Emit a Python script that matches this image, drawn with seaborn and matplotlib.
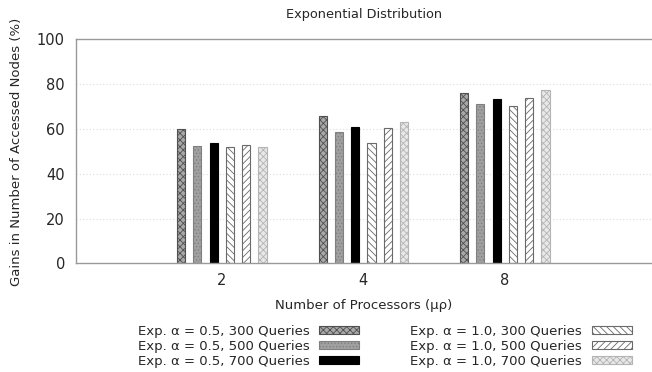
import matplotlib
matplotlib.use("Agg")
import matplotlib.pyplot as plt
import matplotlib.patches as mpatches
import seaborn as sns
import pandas as pd

processors = ["2", "4", "8"]
series = ["Exp. α = 0.5, 300 Queries", "Exp. α = 0.5, 500 Queries", "Exp. α = 0.5, 700 Queries",
          "Exp. α = 1.0, 300 Queries", "Exp. α = 1.0, 500 Queries", "Exp. α = 1.0, 700 Queries"]
a05_300 = [59.8, 66.0, 76.2]
a05_500 = [52.2, 58.8, 71.2]
a05_700 = [53.8, 60.8, 73.4]
a10_300 = [51.9, 53.8, 70.4]
a10_500 = [52.9, 60.5, 74.0]
a10_700 = [51.9, 63.0, 77.4]
values = [a05_300, a05_500, a05_700, a10_300, a10_500, a10_700]

rows = []
for s, vals in zip(series, values):
    for p, v in zip(processors, vals):
        rows.append({"proc": p, "series": s, "gain": v})
df = pd.DataFrame(rows)

styles = [
    dict(facecolor="#a8a8a8", hatch="xxxxx", edgecolor="#505050"),
    dict(facecolor="#a0a0a0", hatch=".....", edgecolor="#808080"),
    dict(facecolor="#000000", hatch=None, edgecolor="#000000"),
    dict(facecolor="#ffffff", hatch="\\\\\\\\\\", edgecolor="#6a6a6a"),
    dict(facecolor="#ffffff", hatch="/////", edgecolor="#6a6a6a"),
    dict(facecolor="#e8e8e8", hatch="xxxxx", edgecolor="#b4b4b4"),
]

sns.set_style("white")
plt.rcParams["font.family"] = ["DejaVu Sans"]
plt.rcParams["hatch.linewidth"] = 0.6

fig = plt.figure(figsize=(6.52, 3.72), dpi=100)
ax = fig.add_axes([0.1166, 0.2917, 0.8834, 0.6027])

sns.barplot(data=df, x="proc", y="gain", hue="series", hue_order=series, order=processors,
            width=0.69, gap=0.5, legend=False, ax=ax, color="white", saturation=1)

n = len(processors)
for i, bar in enumerate(ax.patches[: n * len(series)]):
    st = styles[i // n]
    bar.set_facecolor(st["facecolor"])
    bar.set_edgecolor(st["edgecolor"])
    bar.set_linewidth(0.8)
    if st["hatch"]:
        bar.set_hatch(st["hatch"])

ax.set_xlim(-1.03, 3.04)
ax.set_ylim(0, 100)
ax.set_yticks([0, 20, 40, 60, 80, 100])
for y in [20, 40, 60, 80]:
    ax.axhline(y, color="#dddddd", linestyle=(0, (1, 2)), linewidth=0.8, zorder=0)
for side in ["left", "bottom", "top"]:
    ax.spines[side].set_color("#999999")
    ax.spines[side].set_linewidth(1.0)
ax.spines["right"].set_visible(False)
ax.tick_params(axis="both", direction="in", length=5, color="#999999", labelsize=10.5, pad=8)
ax.tick_params(axis="x", pad=7)
ax.set_xlabel("Number of Processors (μρ)", fontsize=9.5, labelpad=8)
ax.set_ylabel("Gains in Number of Accessed Nodes (%)", fontsize=9.5, labelpad=10)
ax.set_title("Exponential Distribution", fontsize=9.3, pad=15)

handles = [mpatches.Patch(facecolor=st["facecolor"], edgecolor=st["edgecolor"],
                          hatch=st["hatch"], linewidth=0.8) for st in styles]
fig.legend(handles, series, ncol=2, loc="lower center", bbox_to_anchor=(0.59, -0.02),
           frameon=False, markerfirst=False, handlelength=3.0, handleheight=0.6,
           columnspacing=3.9, labelspacing=0.14, fontsize=9.5, handletextpad=0.75)

fig.savefig("out.png", dpi=100)
